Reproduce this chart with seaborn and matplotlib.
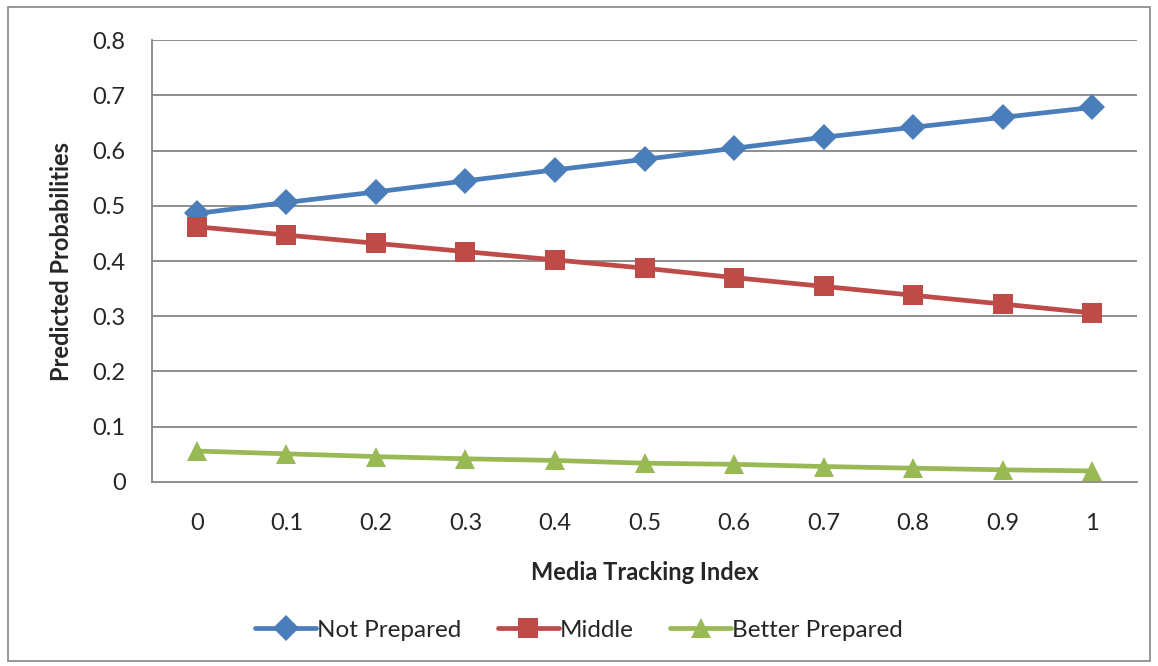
import numpy as np
import pandas as pd
import matplotlib
matplotlib.use("Agg")
import matplotlib.pyplot as plt
import seaborn as sns
from matplotlib.patches import Rectangle

# data
tracking_index = ["0", "0.1", "0.2", "0.3", "0.4", "0.5", "0.6", "0.7", "0.8", "0.9", "1"]
not_prepared = [0.486, 0.506, 0.525, 0.545, 0.565, 0.584, 0.604, 0.624, 0.642, 0.660, 0.678]
middle = [0.462, 0.447, 0.432, 0.417, 0.402, 0.387, 0.370, 0.354, 0.338, 0.322, 0.306]
better_prepared = [0.056, 0.051, 0.046, 0.042, 0.039, 0.034, 0.032, 0.028, 0.025, 0.022, 0.020]
series_names = ["Not Prepared", "Middle", "Better Prepared"]

colors = ["#4A7EBB", "#BE4B48", "#98B954"]
markers = ["D", "s", "^"]
sizes = [13, 14, 15]

pos = np.arange(len(tracking_index))
df = pd.DataFrame({
    "pos": np.tile(pos, 3),
    "value": not_prepared + middle + better_prepared,
    "series": np.repeat(series_names, len(pos)),
})

sns.set_style("white")
plt.rcParams["font.family"] = ["Lato", "DejaVu Sans"]
FS = 17

fig = plt.figure(figsize=(11.58, 6.66), dpi=100)
ax = fig.add_axes([0.1313, 0.2763, 0.8506, 0.6636])

grid_col = "#868686"
for yv in np.arange(0.1, 0.81, 0.1):
    ax.axhline(yv, color=grid_col, lw=1.3, zorder=0)

for name, c, m, ms in zip(series_names, colors, markers, sizes):
    sns.lineplot(data=df[df["series"] == name], x="pos", y="value", ax=ax,
                 color=c, marker=m, markersize=ms, markeredgewidth=0,
                 linewidth=3.4, label=name, zorder=3)

ax.set_xlim(-0.5, len(pos) - 0.5)
ax.set_ylim(0, 0.8)
ax.set_yticks(np.arange(0, 0.81, 0.1))
ax.set_yticklabels(["0", "0.1", "0.2", "0.3", "0.4", "0.5", "0.6", "0.7", "0.8"])
ax.set_xticks(pos)
ax.set_xticklabels(tracking_index)
ax.set_xticks(np.arange(-0.5, len(pos), 1.0), minor=True)
ax.tick_params(axis="x", which="major", length=0, pad=22, labelsize=FS)
ax.tick_params(axis="x", which="minor", length=7, width=1.3, color=grid_col, direction="out")
ax.tick_params(axis="y", length=7, width=1.3, color=grid_col, direction="out",
               labelsize=FS, pad=12)

for s in ["top", "right"]:
    ax.spines[s].set_visible(False)
for s in ["left", "bottom"]:
    ax.spines[s].set_color(grid_col)
    ax.spines[s].set_linewidth(1.3)

ax.set_xlabel("Media Tracking Index", fontsize=FS, fontweight="bold", labelpad=20)
ax.set_ylabel("Predicted Probabilities", fontsize=FS, fontweight="bold", labelpad=14)

ax.legend(loc="center", bbox_to_anchor=(0.5, 0.054), bbox_transform=fig.transFigure,
          ncol=3, frameon=False, fontsize=17.5, handlelength=2.5, handletextpad=0.05,
          columnspacing=1.5)

fig.patches.append(Rectangle((0.007, 0.008), 0.986, 0.982, transform=fig.transFigure,
                             fill=False, edgecolor="#868686", lw=1.2))

fig.savefig("out.png", dpi=100)
